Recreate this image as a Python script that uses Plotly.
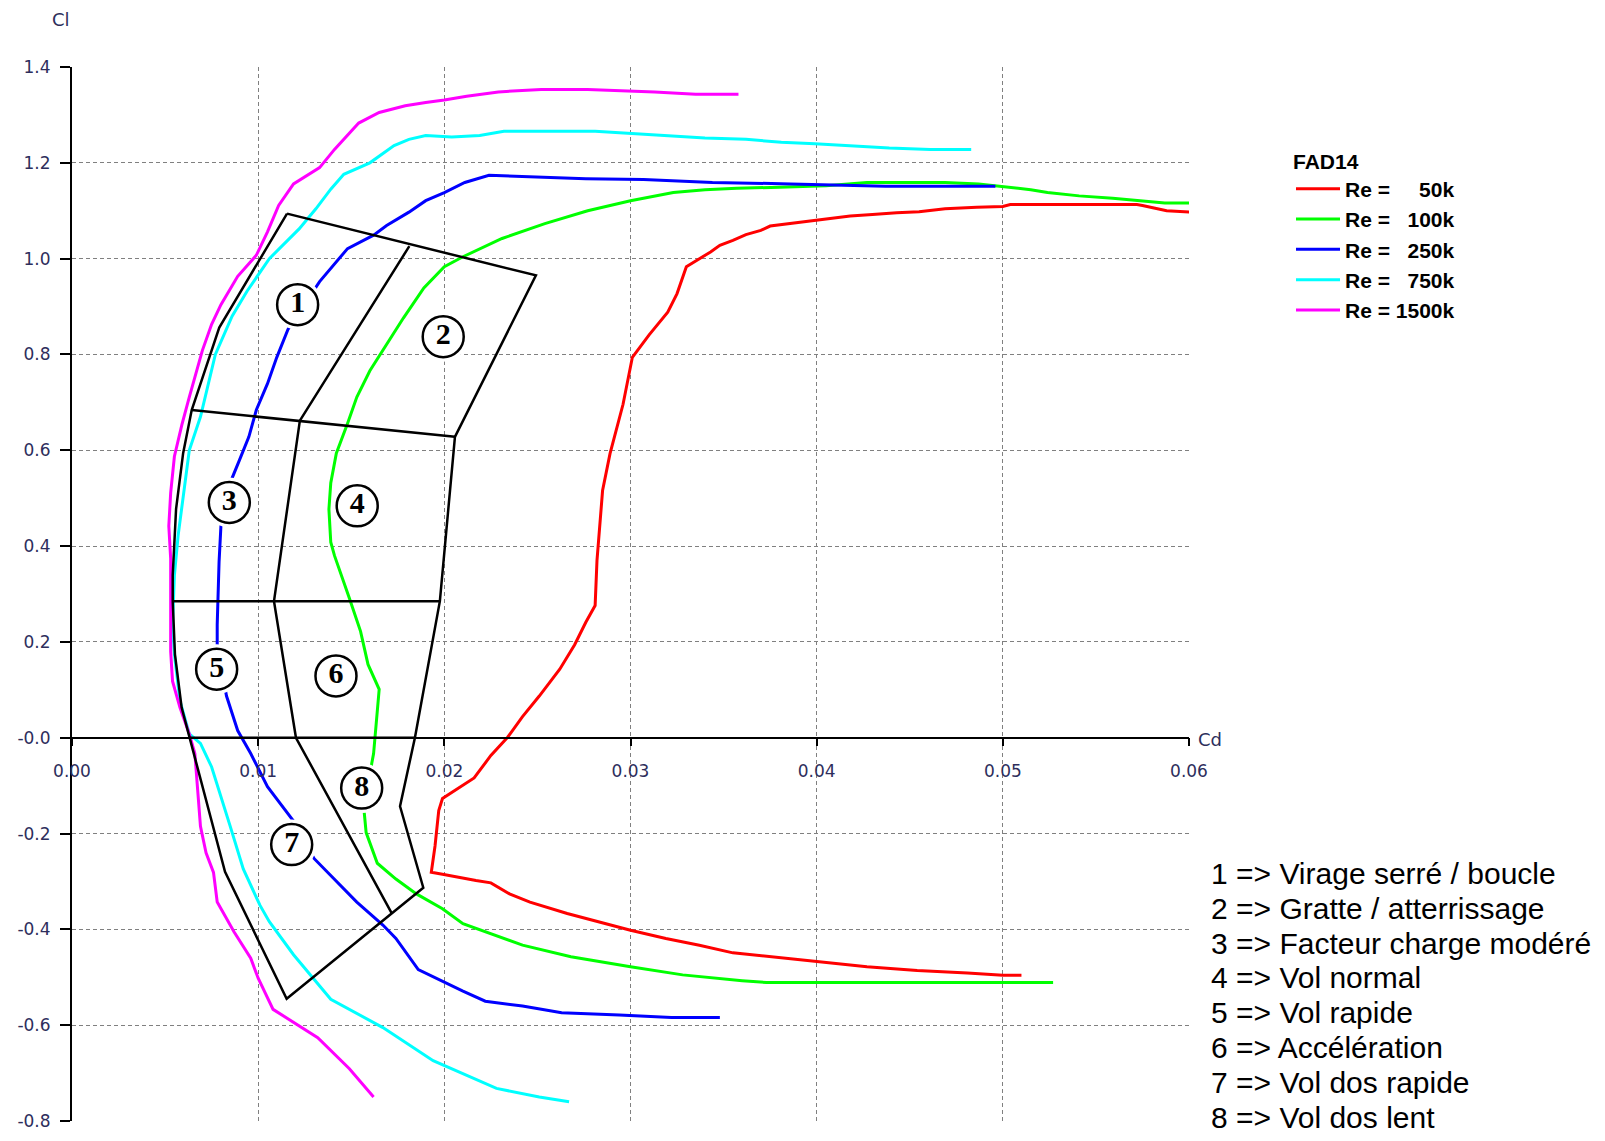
import plotly.graph_objects as go

# ---------------- data (Cd, Cl) ----------------
RE_LABELS = ["50k", "100k", "250k", "750k", "1500k"]
RE_COLORS = ["#ff0000", "#00ff00", "#0000ff", "#00ffff", "#ff00ff"]

POLAR_RE50 = [(0.0510, -0.496), (0.0500, -0.496), (0.0481, -0.491), (0.0454, -0.486), (0.0427, -0.478),
              (0.0399, -0.467), (0.0373, -0.457), (0.0355, -0.449), (0.0337, -0.433), (0.0319, -0.419),
              (0.0300, -0.402), (0.0282, -0.384), (0.0266, -0.367), (0.0246, -0.343), (0.0235, -0.326),
              (0.0225, -0.303), (0.0217, -0.298), (0.0199, -0.285), (0.0193, -0.281), (0.0195, -0.226),
              (0.0197, -0.152), (0.0199, -0.127), (0.0216, -0.084), (0.0225, -0.037), (0.0234, 0.001),
              (0.0242, 0.044), (0.0251, 0.087), (0.0262, 0.143), (0.0270, 0.194), (0.0276, 0.241),
              (0.0281, 0.276), (0.0282, 0.370), (0.0284, 0.464), (0.0285, 0.516), (0.0289, 0.593),
              (0.0291, 0.623), (0.0296, 0.696), (0.0301, 0.794), (0.0310, 0.841), (0.0320, 0.888),
              (0.0325, 0.927), (0.0330, 0.983), (0.0337, 1.000), (0.0343, 1.014), (0.0348, 1.028),
              (0.0355, 1.038), (0.0362, 1.050), (0.0370, 1.059), (0.0375, 1.068), (0.0389, 1.075),
              (0.0404, 1.082), (0.0418, 1.089), (0.0430, 1.092), (0.0443, 1.096), (0.0455, 1.098),
              (0.0469, 1.104), (0.0486, 1.107), (0.0500, 1.109), (0.0504, 1.113), (0.0572, 1.113),
              (0.0575, 1.111), (0.0582, 1.105), (0.0588, 1.100), (0.0601, 1.097)]

POLAR_RE100 = [(0.0527, -0.511), (0.0373, -0.511), (0.0360, -0.507), (0.0350, -0.503), (0.0328, -0.495),
               (0.0300, -0.478), (0.0268, -0.457), (0.0242, -0.433), (0.0225, -0.409), (0.0210, -0.388),
               (0.0199, -0.357), (0.0185, -0.326), (0.0174, -0.295), (0.0164, -0.262), (0.0158, -0.198),
               (0.0157, -0.157), (0.0161, -0.054), (0.0162, -0.033), (0.0164, 0.056), (0.0165, 0.101),
               (0.0159, 0.153), (0.0155, 0.222), (0.0149, 0.291), (0.0141, 0.380), (0.0139, 0.408),
               (0.0138, 0.477), (0.0139, 0.532), (0.0142, 0.594), (0.0148, 0.656), (0.0153, 0.711),
               (0.0160, 0.766), (0.0169, 0.821), (0.0178, 0.876), (0.0189, 0.939), (0.0200, 0.983),
               (0.0210, 1.004), (0.0231, 1.042), (0.0254, 1.073), (0.0277, 1.100), (0.0300, 1.121),
               (0.0323, 1.138), (0.0340, 1.144), (0.0357, 1.147), (0.0380, 1.149), (0.0405, 1.152),
               (0.0427, 1.159), (0.0469, 1.159), (0.0487, 1.156), (0.0496, 1.152), (0.0506, 1.149),
               (0.0515, 1.144), (0.0524, 1.138), (0.0541, 1.131), (0.0559, 1.126), (0.0574, 1.121),
               (0.0587, 1.116), (0.0600, 1.116)]

POLAR_RE250 = [(0.0348, -0.584), (0.0322, -0.584), (0.0294, -0.579), (0.0263, -0.574), (0.0242, -0.560),
               (0.0222, -0.550), (0.0210, -0.529), (0.0196, -0.502), (0.0186, -0.484), (0.0174, -0.419),
               (0.0167, -0.391), (0.0153, -0.343), (0.0139, -0.288), (0.0130, -0.252), (0.0119, -0.174),
               (0.0105, -0.102), (0.0096, -0.033), (0.0089, 0.015), (0.0083, 0.087), (0.0078, 0.191),
               (0.0078, 0.236), (0.0079, 0.367), (0.0080, 0.442), (0.0086, 0.542), (0.0090, 0.580),
               (0.0095, 0.628), (0.0099, 0.684), (0.0105, 0.739), (0.0110, 0.794), (0.0116, 0.852),
               (0.0133, 0.952), (0.0142, 0.994), (0.0148, 1.021), (0.0162, 1.049), (0.0169, 1.069),
               (0.0181, 1.097), (0.0190, 1.121), (0.0200, 1.138), (0.0211, 1.159), (0.0224, 1.174),
               (0.0247, 1.171), (0.0276, 1.167), (0.0307, 1.165), (0.0344, 1.159), (0.0386, 1.156),
               (0.0437, 1.151), (0.0496, 1.151)]

POLAR_RE750 = [(0.0267, -0.760), (0.0251, -0.750), (0.0228, -0.732), (0.0194, -0.674), (0.0167, -0.605),
               (0.0139, -0.546), (0.0119, -0.453), (0.0106, -0.384), (0.0101, -0.350), (0.0092, -0.274),
               (0.0085, -0.185), (0.0080, -0.123), (0.0075, -0.061), (0.0069, -0.012), (0.0063, 0.008),
               (0.0058, 0.077), (0.0055, 0.174), (0.0054, 0.236), (0.0055, 0.339), (0.0057, 0.422),
               (0.0060, 0.511), (0.0063, 0.600), (0.0069, 0.670), (0.0077, 0.800), (0.0086, 0.880),
               (0.0094, 0.932), (0.0106, 1.000), (0.0122, 1.062), (0.0131, 1.104), (0.0139, 1.145),
               (0.0146, 1.176), (0.0160, 1.200), (0.0173, 1.236), (0.0181, 1.249), (0.0190, 1.257),
               (0.0204, 1.254), (0.0219, 1.257), (0.0232, 1.266), (0.0281, 1.266), (0.0300, 1.261),
               (0.0317, 1.257), (0.0340, 1.252), (0.0362, 1.249), (0.0381, 1.243), (0.0399, 1.240),
               (0.0418, 1.235), (0.0439, 1.231), (0.0461, 1.228), (0.0483, 1.228)]

POLAR_RE1500 = [(0.0162, -0.750), (0.0149, -0.691), (0.0132, -0.626), (0.0119, -0.595), (0.0108, -0.567),
                (0.0100, -0.502), (0.0096, -0.460), (0.0087, -0.405), (0.0078, -0.343), (0.0076, -0.281),
                (0.0072, -0.240), (0.0069, -0.185), (0.0067, -0.080), (0.0066, -0.033), (0.0063, 0.008),
                (0.0058, 0.063), (0.0054, 0.118), (0.0053, 0.180), (0.0053, 0.240), (0.0053, 0.374),
                (0.0052, 0.442), (0.0053, 0.511), (0.0055, 0.587), (0.0059, 0.653), (0.0063, 0.711),
                (0.0070, 0.808), (0.0075, 0.863), (0.0080, 0.904), (0.0089, 0.963), (0.0099, 1.007),
                (0.0105, 1.056), (0.0111, 1.111), (0.0119, 1.156), (0.0133, 1.190), (0.0141, 1.228),
                (0.0154, 1.283), (0.0165, 1.305), (0.0179, 1.319), (0.0190, 1.326), (0.0200, 1.331),
                (0.0212, 1.339), (0.0229, 1.348), (0.0252, 1.353), (0.0277, 1.353), (0.0313, 1.348),
                (0.0335, 1.343), (0.0358, 1.343)]

POLARS = [POLAR_RE50, POLAR_RE100, POLAR_RE250, POLAR_RE750, POLAR_RE1500]

# flight-domain zones (Cd, Cl)
ZONE_OUTLINE = [(0.01155, 1.094), (0.02492, 0.965), (0.02057, 0.628), (0.01976, 0.285), (0.01842, 0.0),
                (0.01762, -0.143), (0.01887, -0.313), (0.01153, -0.545), (0.00822, -0.280), (0.00634, 0.0),
                (0.00589, 0.063), (0.00553, 0.174), (0.00541, 0.285), (0.00541, 0.339), (0.00559, 0.477),
                (0.00597, 0.594), (0.00643, 0.684), (0.00791, 0.856), (0.01155, 1.094)]
ZONE_SPLIT_A = [(0.00643, 0.684), (0.02057, 0.628)]
ZONE_SPLIT_B = [(0.01812, 1.026), (0.01224, 0.662), (0.01085, 0.285), (0.01203, 0.0), (0.01717, -0.366)]
ZONE_SPLIT_C = [(0.00541, 0.285), (0.01976, 0.285)]
ZONE_SPLIT_D = [(0.00634, 0.0), (0.01842, 0.0)]
ZONE_LINES = [ZONE_OUTLINE, ZONE_SPLIT_A, ZONE_SPLIT_B, ZONE_SPLIT_C, ZONE_SPLIT_D]

ZONE_IDS = ["1", "2", "3", "4", "5", "6", "7", "8"]
ZONE_CD = [0.01212, 0.01994, 0.00845, 0.01532, 0.00777, 0.01418, 0.01180, 0.01556]
ZONE_CL = [0.904, 0.837, 0.491, 0.484, 0.143, 0.129, -0.223, -0.105]
ZONE_DESC = ["Virage serré / boucle", "Gratte / atterrissage", "Facteur charge modéré", "Vol normal",
             "Vol rapide", "Accélération", "Vol dos rapide", "Vol dos lent"]

X_TICKS = [0.0, 0.01, 0.02, 0.03, 0.04, 0.05, 0.06]
X_TICKTEXT = ["0.00", "0.01", "0.02", "0.03", "0.04", "0.05", "0.06"]
Y_TICKS = [-0.8, -0.6, -0.4, -0.2, 0.0, 0.2, 0.4, 0.6, 0.8, 1.0, 1.2, 1.4]
Y_TICKTEXT = ["-0.8", "-0.6", "-0.4", "-0.2", "-0.0", "0.2", "0.4", "0.6", "0.8", "1.0", "1.2", "1.4"]

X_RANGE = [0.0, 0.06]
Y_RANGE = [-0.8, 1.4]

# ---------------- figure ----------------
W, H = 1605, 1141
ML, MR, MT, MB = 72, 416, 67, 10
PW, PH = W - ML - MR, H - MT - MB

TICK_COLOR = "#2e2e5c"
TICK_FONT = dict(family="DejaVu Sans", size=17, color=TICK_COLOR)
NB = "\u00a0"

fig = go.Figure()

for lab, col, pts in zip(RE_LABELS, RE_COLORS, POLARS):
    pad = NB * ((5 - len(lab)) * 2 + 1)
    fig.add_trace(go.Scatter(
        x=[p[0] for p in pts], y=[p[1] for p in pts], mode="lines",
        line=dict(color=col, width=3), name="Re =" + pad + lab, hoverinfo="skip"))

zx, zy = [], []
for seg in ZONE_LINES:
    zx += [p[0] for p in seg] + [None]
    zy += [p[1] for p in seg] + [None]
fig.add_trace(go.Scatter(x=zx, y=zy, mode="lines", line=dict(color="black", width=2.5),
                         showlegend=False, hoverinfo="skip"))

# white halo around the zone badges
fig.add_trace(go.Scatter(x=ZONE_CD, y=ZONE_CL, mode="markers",
                         marker=dict(size=50, color="white", line=dict(width=0)),
                         showlegend=False, hoverinfo="skip"))
fig.add_trace(go.Scatter(x=ZONE_CD, y=ZONE_CL, mode="markers+text", text=ZONE_IDS,
                         textposition="middle center",
                         textfont=dict(family="Liberation Serif", size=30, color="black", weight="bold"),
                         marker=dict(size=41, color="white", line=dict(color="black", width=2.5)),
                         showlegend=False, hoverinfo="skip"))

y0_paper = (0 - Y_RANGE[0]) / (Y_RANGE[1] - Y_RANGE[0])

fig.update_layout(
    width=W, height=H,
    margin=dict(l=ML, r=MR, t=MT, b=MB, pad=0),
    paper_bgcolor="white", plot_bgcolor="white",
    xaxis=dict(range=X_RANGE, tickvals=X_TICKS, ticktext=X_TICKTEXT, tickfont=TICK_FONT,
               showgrid=True, gridcolor="#808080", gridwidth=1, griddash="4px,3px",
               zeroline=False, showline=True, linecolor="black", linewidth=1.5,
               ticks="outside", ticklen=8, tickcolor="black", tickwidth=1.5,
               anchor="free", position=y0_paper, ticklabelstandoff=10),
    yaxis=dict(range=Y_RANGE, tickvals=Y_TICKS, ticktext=Y_TICKTEXT, tickfont=TICK_FONT,
               showgrid=True, gridcolor="#808080", gridwidth=1, griddash="4px,3px",
               zeroline=False, showline=True, linecolor="black", linewidth=2,
               ticks="outside", ticklen=10, tickcolor="black", tickwidth=2,
               ticklabelstandoff=6),
    legend=dict(x=(1291 - ML) / PW, y=(H - MB - 142) / PH, xanchor="left", yanchor="top",
                bgcolor="rgba(0,0,0,0)", itemwidth=44, tracegroupgap=0,
                font=dict(family="Liberation Sans", size=21, color="black", weight="bold"),
                title=dict(text="FAD14",
                           font=dict(family="Liberation Sans", size=21, color="black", weight="bold"))),
    showlegend=True,
)

annotations = [
    dict(text="Cl", x=(61 - ML) / PW, y=(H - MB - 19) / PH, xref="paper", yref="paper",
         xanchor="center", yanchor="middle", showarrow=False,
         font=dict(family="DejaVu Sans", size=18, color=TICK_COLOR)),
    dict(text="Cd", x=(1196 - ML) / PW, y=(H - MB - 746) / PH, xref="paper", yref="paper",
         xanchor="left", yanchor="middle", showarrow=False,
         font=dict(family="DejaVu Sans", size=18, color=TICK_COLOR)),
]
for i, (zid, desc) in enumerate(zip(ZONE_IDS, ZONE_DESC)):
    py = 881 + 35.2 * i
    annotations.append(dict(text=f"{zid} => {desc}", x=(1209 - ML) / PW, y=(H - MB - py) / PH,
                            xref="paper", yref="paper", xanchor="left", yanchor="middle",
                            showarrow=False,
                            font=dict(family="Liberation Sans", size=30, color="black")))
fig.update_layout(annotations=annotations)

fig.write_html("out.html", config={"displayModeBar": False},
               post_script="document.body.style.margin='0';document.body.style.overflow='hidden';")
